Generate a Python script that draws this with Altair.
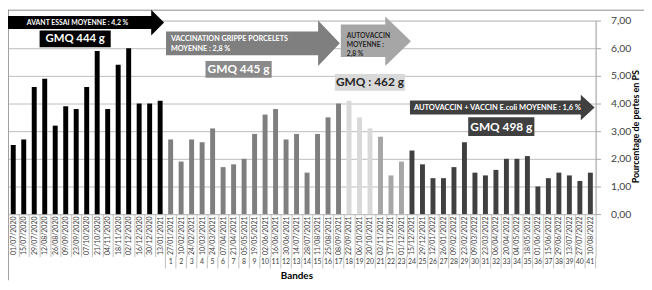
import altair as alt
import pandas as pd

# ---------------- data ----------------
dates = ["01/07/2020", "15/07/2020", "29/07/2020", "12/08/2020", "26/08/2020", "09/09/2020",
         "23/09/2020", "07/10/2020", "21/10/2020", "04/11/2020", "18/11/2020", "02/12/2020",
         "16/12/2020", "30/12/2020", "13/01/2021",
         "27/01/2021", "10/02/2021", "24/02/2021", "10/03/2021", "24/03/2021", "07/04/2021",
         "21/04/2021", "05/05/2021", "19/05/2021", "02/06/2021", "16/06/2021", "30/06/2021",
         "14/07/2021", "28/07/2021", "11/08/2021", "25/08/2021", "08/09/2021", "22/09/2021",
         "06/10/2021", "20/10/2021", "03/11/2021", "17/11/2021", "01/12/2021", "15/12/2021",
         "29/12/2021", "12/01/2022", "26/01/2022", "09/02/2022", "23/02/2022", "09/03/2022",
         "23/03/2022", "06/04/2022", "20/04/2022", "04/05/2022", "18/05/2022", "01/06/2022",
         "15/06/2022", "29/06/2022", "13/07/2022", "27/07/2022", "10/08/2022"]

before_values = [2.5, 2.7, 4.6, 4.9, 3.2, 3.9, 3.8, 4.6, 5.9, 3.8, 5.4, 6.0, 4.0, 4.0, 4.1]

band_values = [2.7, 1.9, 2.7, 2.6, 3.1, 1.7, 1.8, 2.0, 2.9, 3.6,
               3.8, 2.7, 2.9, 1.5, 2.9, 3.5, 4.0, 4.1, 3.5, 3.1,
               2.8, 1.4, 1.9, 2.3, 1.8, 1.3, 1.3, 1.7, 2.6, 1.5,
               1.4, 1.6, 2.0, 2.0, 2.1, 1.0, 1.3, 1.5, 1.4, 1.2, 1.5]

band_numbers = ["1", "2", "3", "4", "5", "6", "7", "8", "9", "10", "11", "12", "13", "14",
                "15", "16", "17", "18", "19", "20", "21", "22", "23", "24", "25", "26", "27",
                "28", "29", "30", "31", "32", "33", "34", "35", "36", "37", "38", "39", "40", "41"]

group_names = ["Avant essai", "Vaccination grippe", "Autovaccin", "Transition", "Autovaccin + E.coli"]
group_sizes = [15, 17, 3, 3, 18]
group_colors = ["#000000", "#7f7f7f", "#d9d9d9", "#a6a6a6", "#404040"]

groups = []
for name, n in zip(group_names, group_sizes):
    groups += [name] * n

df = pd.DataFrame({
    "date": dates,
    "value": before_values + band_values,
    "group": groups,
    "band": [""] * len(before_values) + band_numbers,
})
df_bands = df[df["band"] != ""]
df_last = df.tail(1)

# ---------------- layout ----------------
W, H = 595, 196
OX, OY = 8, 19  # page position of the plot origin


def px(x):
    return x - OX


def py(y):
    return y - OY


FONT = "Lato"
one = pd.DataFrame({"a": [0]})

x_axis = alt.Axis(title="Bandes", titleFont=FONT, titleFontSize=10, titleFontWeight="bold",
                  titleColor="#000000", titleX=292, titleY=62, titleBaseline="middle",
                  labelAngle=270, labelFontSize=7, labelFont=FONT, labelColor="#404040",
                  labelPadding=-41, labelOverlap=False, tickBand="extent", tickSize=43,
                  tickColor="#bfbfbf", domainColor="#bfbfbf")
x_scale = alt.Scale(paddingInner=0, paddingOuter=0)


def xfield(**kw):
    return alt.X("date:N", sort=dates, scale=x_scale, axis=x_axis, **kw)


y_enc = alt.Y("value:Q", scale=alt.Scale(domain=[0, 7], nice=False),
              axis=alt.Axis(orient="right", values=[0, 1, 2, 3, 4, 5, 6, 7],
                            labelExpr="replace(format(datum.value, '.2f'), '.', ',')",
                            grid=True, gridColor="#bdbdbd", domainColor="#a6a6a6",
                            tickColor="#a6a6a6", tickSize=5, labelPadding=10,
                            labelFontSize=10.5, labelFont=FONT, labelColor="#404040",
                            title="Pourcentage de pertes en PS", titleFont=FONT, titleFontSize=9,
                            titleFontWeight="bold", titleColor="#000000", titleAngle=270,
                            titleX=40, titleY=107, titleAlign="center", titleBaseline="middle"))

bars = alt.Chart(df).mark_bar(size=5).encode(
    x=xfield(), y=y_enc,
    color=alt.Color("group:N", scale=alt.Scale(domain=group_names, range=group_colors), legend=None),
)

band_sep = alt.Chart(df_bands).mark_rule(color="#bfbfbf", strokeWidth=1).encode(
    x=xfield(bandPosition=0), y=alt.value(H + 43), y2=alt.value(H + 55))
band_sep_end = alt.Chart(df_last).mark_rule(color="#bfbfbf", strokeWidth=1).encode(
    x=xfield(bandPosition=1), y=alt.value(H + 43), y2=alt.value(H + 55))
band_text = alt.Chart(df_bands).mark_text(fontSize=7, font=FONT, color="#404040").encode(
    x=xfield(), y=alt.value(H + 49), text="band:N")

border_left = alt.Chart(one).mark_rule(color="#a0a0a0").encode(
    x=alt.value(0.5), y=alt.value(-11), y2=alt.value(H + 67))
border_top = alt.Chart(one).mark_rule(color="#8c8c8c").encode(
    x=alt.value(0), x2=alt.value(W + 49), y=alt.value(-10.5))

layers = [bars, band_sep, band_sep_end, band_text, border_left, border_top]


def arrow(x0, x1, body_top, body_bot, head_x, head_top, head_bot, color):
    cx = (x0 + x1) / 2
    cy = (head_top + head_bot) / 2
    half = max(x1 - x0, head_bot - head_top) / 2
    pts = [(x0, body_top), (head_x, body_top), (head_x, head_top), (x1, cy),
           (head_x, head_bot), (head_x, body_bot), (x0, body_bot)]
    path = "M " + " L ".join(f"{(x - cx) / half:.4f} {(y - cy) / half:.4f}" for x, y in pts) + " Z"
    return alt.Chart(one).mark_point(shape=path, size=(2 * half) ** 2, filled=True, color=color,
                                     opacity=1, strokeWidth=0).encode(
        x=alt.value(px(cx)), y=alt.value(py(cy)))


def box(x0, x1, y0, y1, color):
    return alt.Chart(one).mark_rect(color=color).encode(
        x=alt.value(px(x0)), x2=alt.value(px(x1)), y=alt.value(py(y0)), y2=alt.value(py(y1)))


def label(txt, x, y, size, color, align="left"):
    return alt.Chart(one).mark_text(text=txt, font=FONT, fontSize=size, fontWeight="bold",
                                    color=color, align=align, baseline="middle").encode(
        x=alt.value(px(x)), y=alt.value(py(y)))


# black arrow + box
layers += [arrow(8, 166, 14.5, 27.5, 153, 8, 34, "#000000"),
           label("AVANT ESSAI MOYENNE : 4,2 %", 27, 21.5, 7, "#ffffff"),
           box(40, 112, 29, 46, "#000000"),
           label("GMQ 444 g", 76, 37.5, 11.5, "#ffffff", "center")]
# gray arrow + box
layers += [arrow(168, 344, 30, 54, 322, 19, 65, "#7f7f7f"),
           label("VACCINATION GRIPPE PORCELETS", 173, 37.3, 7.3, "#ffffff"),
           label("MOYENNE : 2,8 %", 173, 48.3, 7.3, "#ffffff"),
           box(208, 275, 60, 77, "#8a8a8a"),
           label("GMQ 445 g", 241.5, 68.5, 12, "#ffffff", "center")]
# light arrow + box
layers += [arrow(345, 416, 23, 56, 390, 15, 65, "#a6a6a6"),
           label("AUTOVACCIN", 351, 35, 6.8, "#262626"),
           label("MOYENNE :", 351, 44, 6.8, "#262626"),
           label("2,8 %", 351, 52.7, 6.8, "#262626"),
           box(339, 410, 73, 90, "#d9d9d9"),
           label("GMQ : 462 g", 374.5, 81.5, 12, "#262626", "center")]
# dark arrow + box
layers += [arrow(415, 602, 100, 114, 588, 94, 120, "#404040"),
           label("AUTOVACCIN + VACCIN E.coli MOYENNE : 1,6 %", 419, 107.5, 7.6, "#ffffff"),
           box(474, 541, 117, 136, "#404040"),
           label("GMQ 498 g", 507.5, 126.5, 12, "#ffffff", "center")]

chart = alt.layer(*layers).properties(
    width=W, height=H,
    autosize=alt.AutoSizeParams(type="none"),
    padding={"left": 0, "top": 11, "right": 49, "bottom": 67},
).configure_view(stroke=None).configure(font=FONT, background="#ffffff")

chart.save("out.html", embed_options={"renderer": "svg", "actions": False})
